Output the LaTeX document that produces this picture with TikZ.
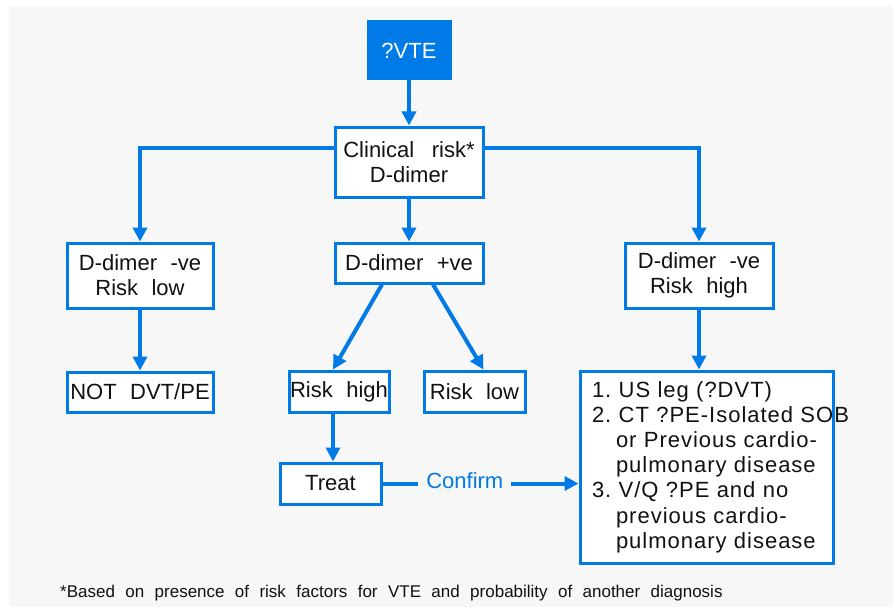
\documentclass[tikz,border=0pt]{standalone}
\usepackage{fontspec}
\setmainfont[WordSpace=2.2]{Liberation Sans}
\newfontfamily\listfont[WordSpace=2.2, LetterSpace=4.5]{Liberation Sans}
\usetikzlibrary{arrows.meta,calc}
\definecolor{vteblue}{RGB}{0,122,230}
\definecolor{panel}{RGB}{247,247,247}
\definecolor{ink}{RGB}{17,17,17}

\begin{document}
\begin{tikzpicture}[x = 1pt, y = -1pt,
  every node/.style = {font = \fontsize{22}{25}\selectfont, text = ink, align = center, inner sep = 0pt},
  box/.style = {draw = vteblue, line width = 3pt, fill = white},
  arr/.style = {draw = vteblue, line width = 4pt, -{Triangle[width = 14pt, length = 14pt]}}]

  \fill[panel] (9, 6) rectangle (893, 607);
  \useasboundingbox (0, 0) rectangle (893, 607);

  \node[box, fill = vteblue, text = white, minimum width = 82pt, minimum height = 57pt] (vte) at (409, 50.5) {?VTE};

  \node[box, minimum width = 148pt, minimum height = 70pt] (clin) at (409, 162) {Clinical\hspace{0.8em}risk*\\D-dimer};

  \node[box, minimum width = 146pt, minimum height = 65pt] (neglow) at (140, 275.5) {D-dimer -ve\\Risk low};
  \node[box, minimum width = 148pt, minimum height = 40pt] (pos) at (409, 263) {D-dimer +ve};
  \node[box, minimum width = 148pt, minimum height = 65pt] (neghigh) at (699, 275.5) {D-dimer -ve\\Risk high};

  \node[box, minimum width = 146pt, minimum height = 40pt] (notdvt) at (140, 392) {NOT DVT/PE};
  \node[box, minimum width = 100pt, minimum height = 41pt] (riskhigh) at (339, 391.5) {Risk high};
  \node[box, minimum width = 101pt, minimum height = 41pt] (risklow) at (474.5, 391.5) {Risk low};
  \node[box, minimum width = 101pt, minimum height = 41pt] (treat) at (330.5, 483.5) {Treat};

  \node[box, font = \listfont\fontsize{22}{25.2}\selectfont, minimum width = 253pt, minimum height = 192pt, text width = 229pt, inner xsep = 12pt, align = left] (tests) at (706.5, 467) {
    \mbox{1.\ US leg (?DVT)}\\
    \mbox{2.\ CT ?PE-Isolated SOB}\\
    \hspace*{24pt}\mbox{or Previous cardio-}\\
    \hspace*{24pt}\mbox{pulmonary disease}\\
    \mbox{3.\ V/Q ?PE and no}\\
    \hspace*{24pt}\mbox{previous cardio-}\\
    \hspace*{24pt}\mbox{pulmonary disease}};

  \node[font = \fontsize{17}{20}\selectfont, anchor = base west] (note) at (60, 597) {*Based on presence of risk factors for VTE and probability of another diagnosis};

  \draw[arr] (vte) -- (clin);
  \draw[arr] ([yshift = 14pt]clin.west) -| (neglow.north);
  \draw[arr] (clin) -- (pos);
  \draw[arr] ([yshift = 14pt]clin.east) -| (neghigh.north);

  \draw[arr] (neglow) -- (notdvt);
  \draw[arr] ([xshift = -27pt]pos.south) -- ([xshift = -6pt]riskhigh.north);
  \draw[arr] ([xshift = 24pt]pos.south) -- ([xshift = 9pt]risklow.north);
  \draw[arr] (neghigh.south) -- (neghigh.south |- tests.north);

  \draw[arr] ([xshift = -6pt]riskhigh.south) -- ([xshift = 2.5pt]treat.north);
  \draw[arr] (treat.east) -- node[pos = 0.42, yshift = 3pt, fill = panel, text = vteblue, inner xsep = 8pt, inner ysep = 4pt] (confirm) {Confirm} (treat.east -| tests.west);

\end{tikzpicture}
\end{document}
